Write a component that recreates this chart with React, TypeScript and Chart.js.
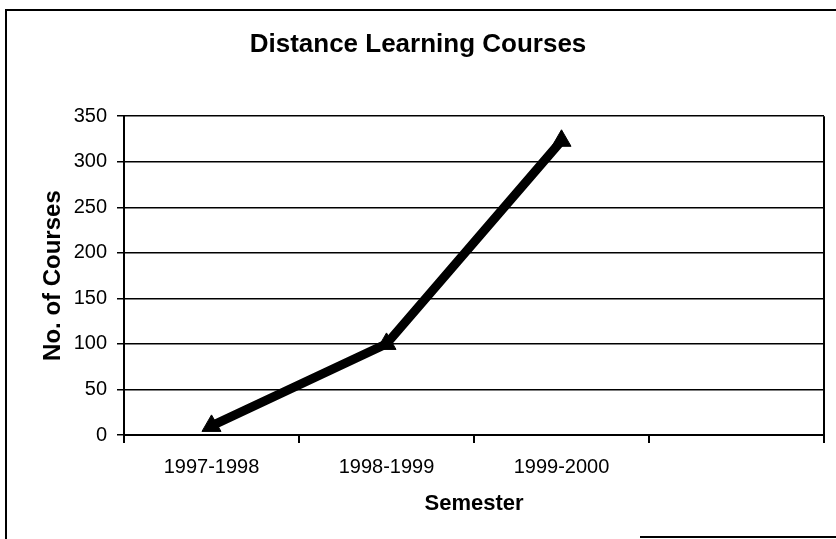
import React, { useEffect, useRef } from "react";
import { Chart, registerables } from "chart.js";

Chart.register(...registerables);

const categories: string[] = ["1997-1998", "1998-1999", "1999-2000", ""];
const courses: (number | null)[] = [10, 100, 323, null];
const yTickMin = 0;
const yTickMax = 350;
const yTickStep = 50;

const chartTitle = "Distance Learning Courses";
const xTitle = "Semester";
const yTitle = "No. of Courses";

const FONT = "'Liberation Sans', Arial, Helvetica, sans-serif";

const framePlugin = {
  id: "frame",
  afterDraw(chart: any) {
    const { ctx, chartArea, width, height } = chart;
    ctx.save();
    ctx.strokeStyle = "#000";
    // plot area right border
    ctx.lineWidth = 2;
    ctx.beginPath();
    ctx.moveTo(chartArea.right, chartArea.top);
    ctx.lineTo(chartArea.right, chartArea.bottom + 3);
    ctx.stroke();
    // outer chart frame
    ctx.lineWidth = 2;
    ctx.beginPath();
    ctx.moveTo(6, height);
    ctx.lineTo(6, 10);
    ctx.lineTo(width, 10);
    ctx.stroke();
    ctx.beginPath();
    ctx.moveTo(640, height - 2);
    ctx.lineTo(width, height - 2);
    ctx.stroke();
    ctx.restore();
  },
};

export default function App() {
  const ref = useRef<HTMLCanvasElement | null>(null);

  useEffect(() => {
    if (!ref.current) return;
    const chart = new Chart(ref.current, {
      type: "line",
      data: {
        labels: categories,
        datasets: [
          {
            label: "Courses",
            data: courses,
            borderColor: "#000",
            backgroundColor: "#000",
            borderWidth: 9,
            pointStyle: "triangle",
            pointRadius: 11,
            pointHoverRadius: 11,
            pointBackgroundColor: "#000",
            pointBorderColor: "#000",
            pointBorderWidth: 1,
            tension: 0,
          },
        ],
      },
      options: {
        responsive: false,
        animation: false,
        layout: { padding: { left: 8, right: 8, top: 0, bottom: 0 } },
        plugins: {
          legend: { display: false },
          tooltip: { enabled: false },
          title: {
            display: true,
            text: chartTitle,
            color: "#000",
            font: { family: FONT, size: 26, weight: "bold" },
            padding: { top: 29, bottom: 56 },
          },
        },
        scales: {
          x: {
            type: "category",
            offset: true,
            afterFit: (scale: any) => {
              scale.height = 104;
            },
            grid: {
              offset: true,
              drawOnChartArea: false,
              drawTicks: true,
              tickLength: 8,
              color: "#000",
              lineWidth: 2,
            },
            border: { display: true, color: "#000", width: 2 },
            ticks: {
              color: "#000",
              font: { family: FONT, size: 20 },
              padding: 12,
              maxRotation: 0,
              autoSkip: false,
            },
            title: {
              display: true,
              text: xTitle,
              color: "#000",
              font: { family: FONT, size: 22, weight: "bold" },
              padding: { top: 0, bottom: 22 },
            },
          },
          y: {
            min: yTickMin,
            max: yTickMax,
            afterFit: (scale: any) => {
              scale.width = 116;
            },
            grid: {
              color: "#000",
              lineWidth: 1.5,
              tickLength: 7,
            },
            border: { display: true, color: "#000", width: 2 },
            ticks: {
              stepSize: yTickStep,
              color: "#000",
              font: { family: FONT, size: 20 },
              padding: 10,
            },
            title: {
              display: true,
              text: yTitle,
              color: "#000",
              font: { family: FONT, size: 24, weight: "bold" },
              padding: { top: 31, bottom: 0 },
            },
          },
        },
      },
      plugins: [framePlugin],
    });
    return () => chart.destroy();
  }, []);

  return (
    <div style={{ position: "absolute", left: 0, top: 0, width: 836, height: 539, background: "#fff" }}>
      <canvas ref={ref} width={836} height={539} style={{ display: "block" }} />
    </div>
  );
}
